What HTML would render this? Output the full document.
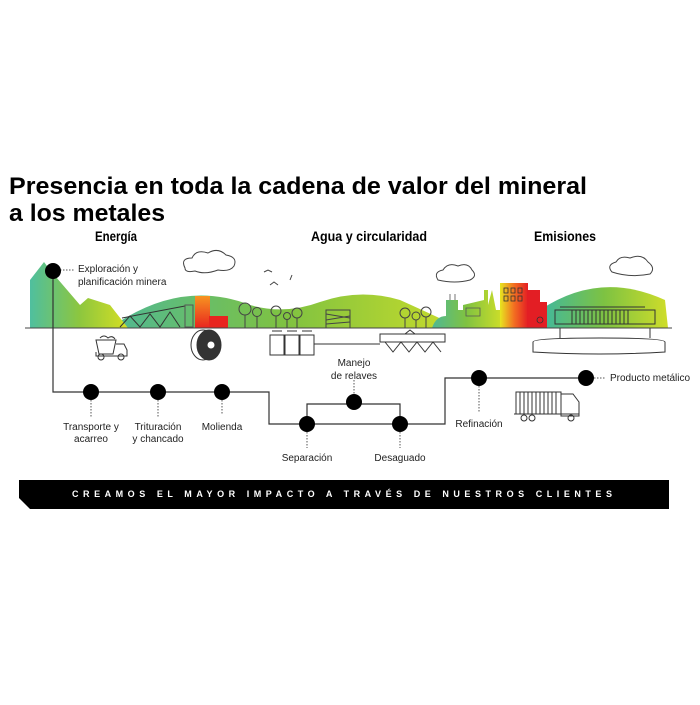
<!DOCTYPE html>
<html><head><meta charset="utf-8"><style>
body{margin:0;background:#fff;width:700px;height:700px;overflow:hidden;font-family:"Liberation Sans",sans-serif}
</style></head><body>
<svg width="700" height="700" viewBox="0 0 700 700" xmlns="http://www.w3.org/2000/svg" font-family="Liberation Sans, sans-serif">
<defs>
<linearGradient id="gm" x1="0" x2="1" y1="0" y2="0"><stop offset="0" stop-color="#4fbf9f"/><stop offset="0.5" stop-color="#8cc63f"/><stop offset="1" stop-color="#d6df23"/></linearGradient>
<linearGradient id="gh" x1="0" x2="1"><stop offset="0" stop-color="#4fb894"/><stop offset="0.5" stop-color="#7fc241"/><stop offset="1" stop-color="#c9dc2a"/></linearGradient>
<linearGradient id="gr" x1="0" x2="1"><stop offset="0" stop-color="#3fb8a0"/><stop offset="0.5" stop-color="#7dc242"/><stop offset="1" stop-color="#cfdd2a"/></linearGradient>
<linearGradient id="red" x1="0" x2="0" y1="0" y2="1"><stop offset="0" stop-color="#f79420"/><stop offset="1" stop-color="#e8251f"/></linearGradient>
<linearGradient id="bld" x1="0" x2="1"><stop offset="0" stop-color="#e7e61f"/><stop offset="0.5" stop-color="#f36f21"/><stop offset="1" stop-color="#e31e24"/></linearGradient>
</defs>
<text x="9" y="194" font-size="24" font-weight="bold" textLength="578" lengthAdjust="spacingAndGlyphs">Presencia en toda la cadena de valor del mineral</text>
<text x="9" y="221" font-size="24" font-weight="bold" textLength="156" lengthAdjust="spacingAndGlyphs">a los metales</text>
<text x="95" y="241" font-size="13.5" font-weight="bold" textLength="42" lengthAdjust="spacingAndGlyphs">Energía</text>
<text x="311" y="241" font-size="13.5" font-weight="bold" textLength="116" lengthAdjust="spacingAndGlyphs">Agua y circularidad</text>
<text x="534" y="241" font-size="13.5" font-weight="bold" textLength="62" lengthAdjust="spacingAndGlyphs">Emisiones</text>
<path d="M110,328 Q180,278 250,305 Q285,315 320,302 Q360,288 400,300 Q440,318 460,328 Z" fill="url(#gh)"/>
<path d="M540,328 L540,310 Q600,270 665,300 L668,328 Z" fill="url(#gr)"/>
<path d="M30,328 L30,280 L44,262 L50,270 L80,305 L88,298 L110,305 L128,328 Z" fill="url(#gm)"/>
<path d="M122,318 L185,306 M120,327 L130,316 L140,327 L150,314 L160,327 L170,312 L180,327" stroke="#333" fill="none" stroke-width="1"/>
<rect x="185" y="305" width="8" height="22" fill="none" stroke="#555"/>
<rect x="195" y="296" width="15" height="32" fill="url(#red)"/>
<rect x="209" y="316" width="19" height="12" fill="#e8251f"/>
<g fill="none" stroke="#444" stroke-width="1">
<circle cx="245" cy="309" r="6"/><line x1="245" y1="315" x2="245" y2="328"/>
<circle cx="257" cy="312" r="4.5"/><line x1="257" y1="316" x2="257" y2="328"/>
<circle cx="276" cy="311" r="5"/><line x1="276" y1="316" x2="276" y2="328"/>
<circle cx="287" cy="316" r="3.5"/><line x1="287" y1="319" x2="287" y2="328"/>
<circle cx="297" cy="313" r="5"/><line x1="297" y1="318" x2="297" y2="328"/>
<circle cx="405" cy="313" r="5"/><line x1="405" y1="318" x2="405" y2="328"/>
<circle cx="416" cy="316" r="4"/><line x1="416" y1="320" x2="416" y2="328"/>
<circle cx="426" cy="312" r="5"/><line x1="426" y1="317" x2="426" y2="328"/>
<rect x="326" y="310" width="24" height="18"/>
<path d="M326,314 L350,318 M326,320 L350,316 M326,324 L350,322"/>
<path d="M185,268 Q180,258 192,258 Q196,249 208,253 Q218,247 226,255 Q238,257 234,266 Q230,272 218,270 Q205,275 195,271 Q185,273 185,268 Z"/>
<path d="M438,280 Q433,272 443,270 Q448,262 458,266 Q468,262 472,270 Q478,276 470,280 Q455,284 438,280 Z"/>
<path d="M612,272 Q606,265 616,262 Q620,255 630,258 Q642,253 648,262 Q656,268 650,274 Q630,278 612,272 Z"/>
<path d="M264,272 l4,-2 l4,2 M270,285 l4,-3 l4,3 M290,280 l2,-5"/>
</g>
<path d="M432,328 Q436,316 446,316 L446,300 L458,300 L458,310 L463,310 L463,305 L484,300 L484,290 L488,290 L488,305 L492,290 L496,310 L500,310 L500,328 Z" fill="url(#gh)"/>
<g stroke="#555" fill="none" stroke-width="0.8"><path d="M466,308 h14 v8 h-14z M450,300 v-6 M455,300 v-6"/></g>
<rect x="500" y="283" width="28" height="45" fill="url(#bld)"/>
<rect x="527" y="290" width="13" height="38" fill="#e31e24"/>
<rect x="538" y="302" width="9" height="26" fill="#e31e24"/>
<g fill="none" stroke="#333" stroke-width="0.8"><rect x="504" y="288" width="4" height="5"/><rect x="511" y="288" width="4" height="5"/><rect x="518" y="288" width="4" height="5"/><rect x="504" y="296" width="4" height="5"/><rect x="511" y="296" width="4" height="5"/><rect x="518" y="296" width="4" height="5"/><circle cx="540" cy="320" r="3"/></g>
<line x1="25" y1="328" x2="672" y2="328" stroke="#444" stroke-width="1"/>
<g fill="none" stroke="#333" stroke-width="1">
<rect x="555" y="310" width="100" height="14"/>
<path d="M572,310 v14 M576,310 v14 M580,310 v14 M584,310 v14 M588,310 v14 M592,310 v14 M596,310 v14 M600,310 v14 M604,310 v14 M608,310 v14 M612,310 v14 M616,310 v14 M620,310 v14 M624,310 v14 M628,310 v14"/>
<path d="M560,307 H645 M560,328 v10 M650,328 v10"/>
<path d="M533,342 Q533,338 600,338 Q665,338 665,342 L665,352 Q600,356 533,352 Z"/>
<path d="M96,340 h20 l-3,14 h-14z M116,344 h8 l3,6 v6 h-31 v-4"/>
<circle cx="101" cy="357" r="3"/><circle cx="121" cy="357" r="3"/>
<path d="M100,338 q4,-4 8,0 q4,-3 7,1"/>
<ellipse cx="203" cy="345" rx="12" ry="15"/>
<ellipse cx="209" cy="345" rx="12" ry="15" fill="#333"/>
<circle cx="211" cy="345" r="4" fill="#fff"/>
<rect x="270" y="335" width="14" height="20"/><rect x="285" y="335" width="14" height="20"/><rect x="300" y="335" width="14" height="20"/>
<path d="M272,331 h10 M287,331 h10 M302,331 h10 M314,344 H380"/>
<path d="M380,334 H445 v8 H380z M385,342 l8,10 l8,-10 l8,10 l8,-10 l8,10 l8,-10 l8,10 M405,334 l5,-4 l5,4"/>
<rect x="516" y="392" width="45" height="22"/>
<path d="M520,392 v22 M524,392 v22 M528,392 v22 M532,392 v22 M536,392 v22 M540,392 v22 M544,392 v22 M548,392 v22 M552,392 v22 M556,392 v22"/>
<path d="M561,394 h12 l6,8 v14 h-18z M514,414 h65"/>
<circle cx="524" cy="418" r="3"/><circle cx="532" cy="418" r="3"/><circle cx="571" cy="418" r="3"/>
</g>
<g fill="none" stroke="#333" stroke-width="1.2">
<path d="M53,274 V392 H269 V424 H445 V378 H586"/>
<path d="M307,424 V404 H400 V424"/>
</g>
<g fill="none" stroke="#555" stroke-width="1" stroke-dasharray="1.5,1.5">
<path d="M60,270 H74 M91,400 V418 M158,400 V418 M222,400 V415 M307,432 V448 M400,432 V448 M354,380 V394 M479,386 V412 M594,378 H606"/>
</g>
<g fill="#000">
<circle cx="53" cy="271" r="8"/><circle cx="91" cy="392" r="8"/><circle cx="158" cy="392" r="8"/><circle cx="222" cy="392" r="8"/>
<circle cx="307" cy="424" r="8"/><circle cx="400" cy="424" r="8"/><circle cx="354" cy="402" r="8"/><circle cx="479" cy="378" r="8"/><circle cx="586" cy="378" r="8"/>
</g>
<g font-size="10" fill="#222" text-anchor="middle">
<text x="78" y="272" text-anchor="start">Exploración y</text>
<text x="78" y="285" text-anchor="start">planificación minera</text>
<text x="91" y="430">Transporte y</text><text x="91" y="442">acarreo</text>
<text x="158" y="430">Trituración</text><text x="158" y="442">y chancado</text>
<text x="222" y="430">Molienda</text>
<text x="307" y="461">Separación</text>
<text x="400" y="461">Desaguado</text>
<text x="354" y="366">Manejo</text><text x="354" y="379">de relaves</text>
<text x="479" y="427">Refinación</text>
<text x="610" y="381" text-anchor="start">Producto metálico</text>
</g>
<path d="M19,480 H669 V509 H30 L19,498 Z" fill="#000"/>
<text x="342" y="497" font-size="9" font-weight="bold" fill="#fff" text-anchor="middle" textLength="540" lengthAdjust="spacing">CREAMOS EL MAYOR IMPACTO A TRAVÉS DE NUESTROS CLIENTES</text>
</svg>
</body></html>
